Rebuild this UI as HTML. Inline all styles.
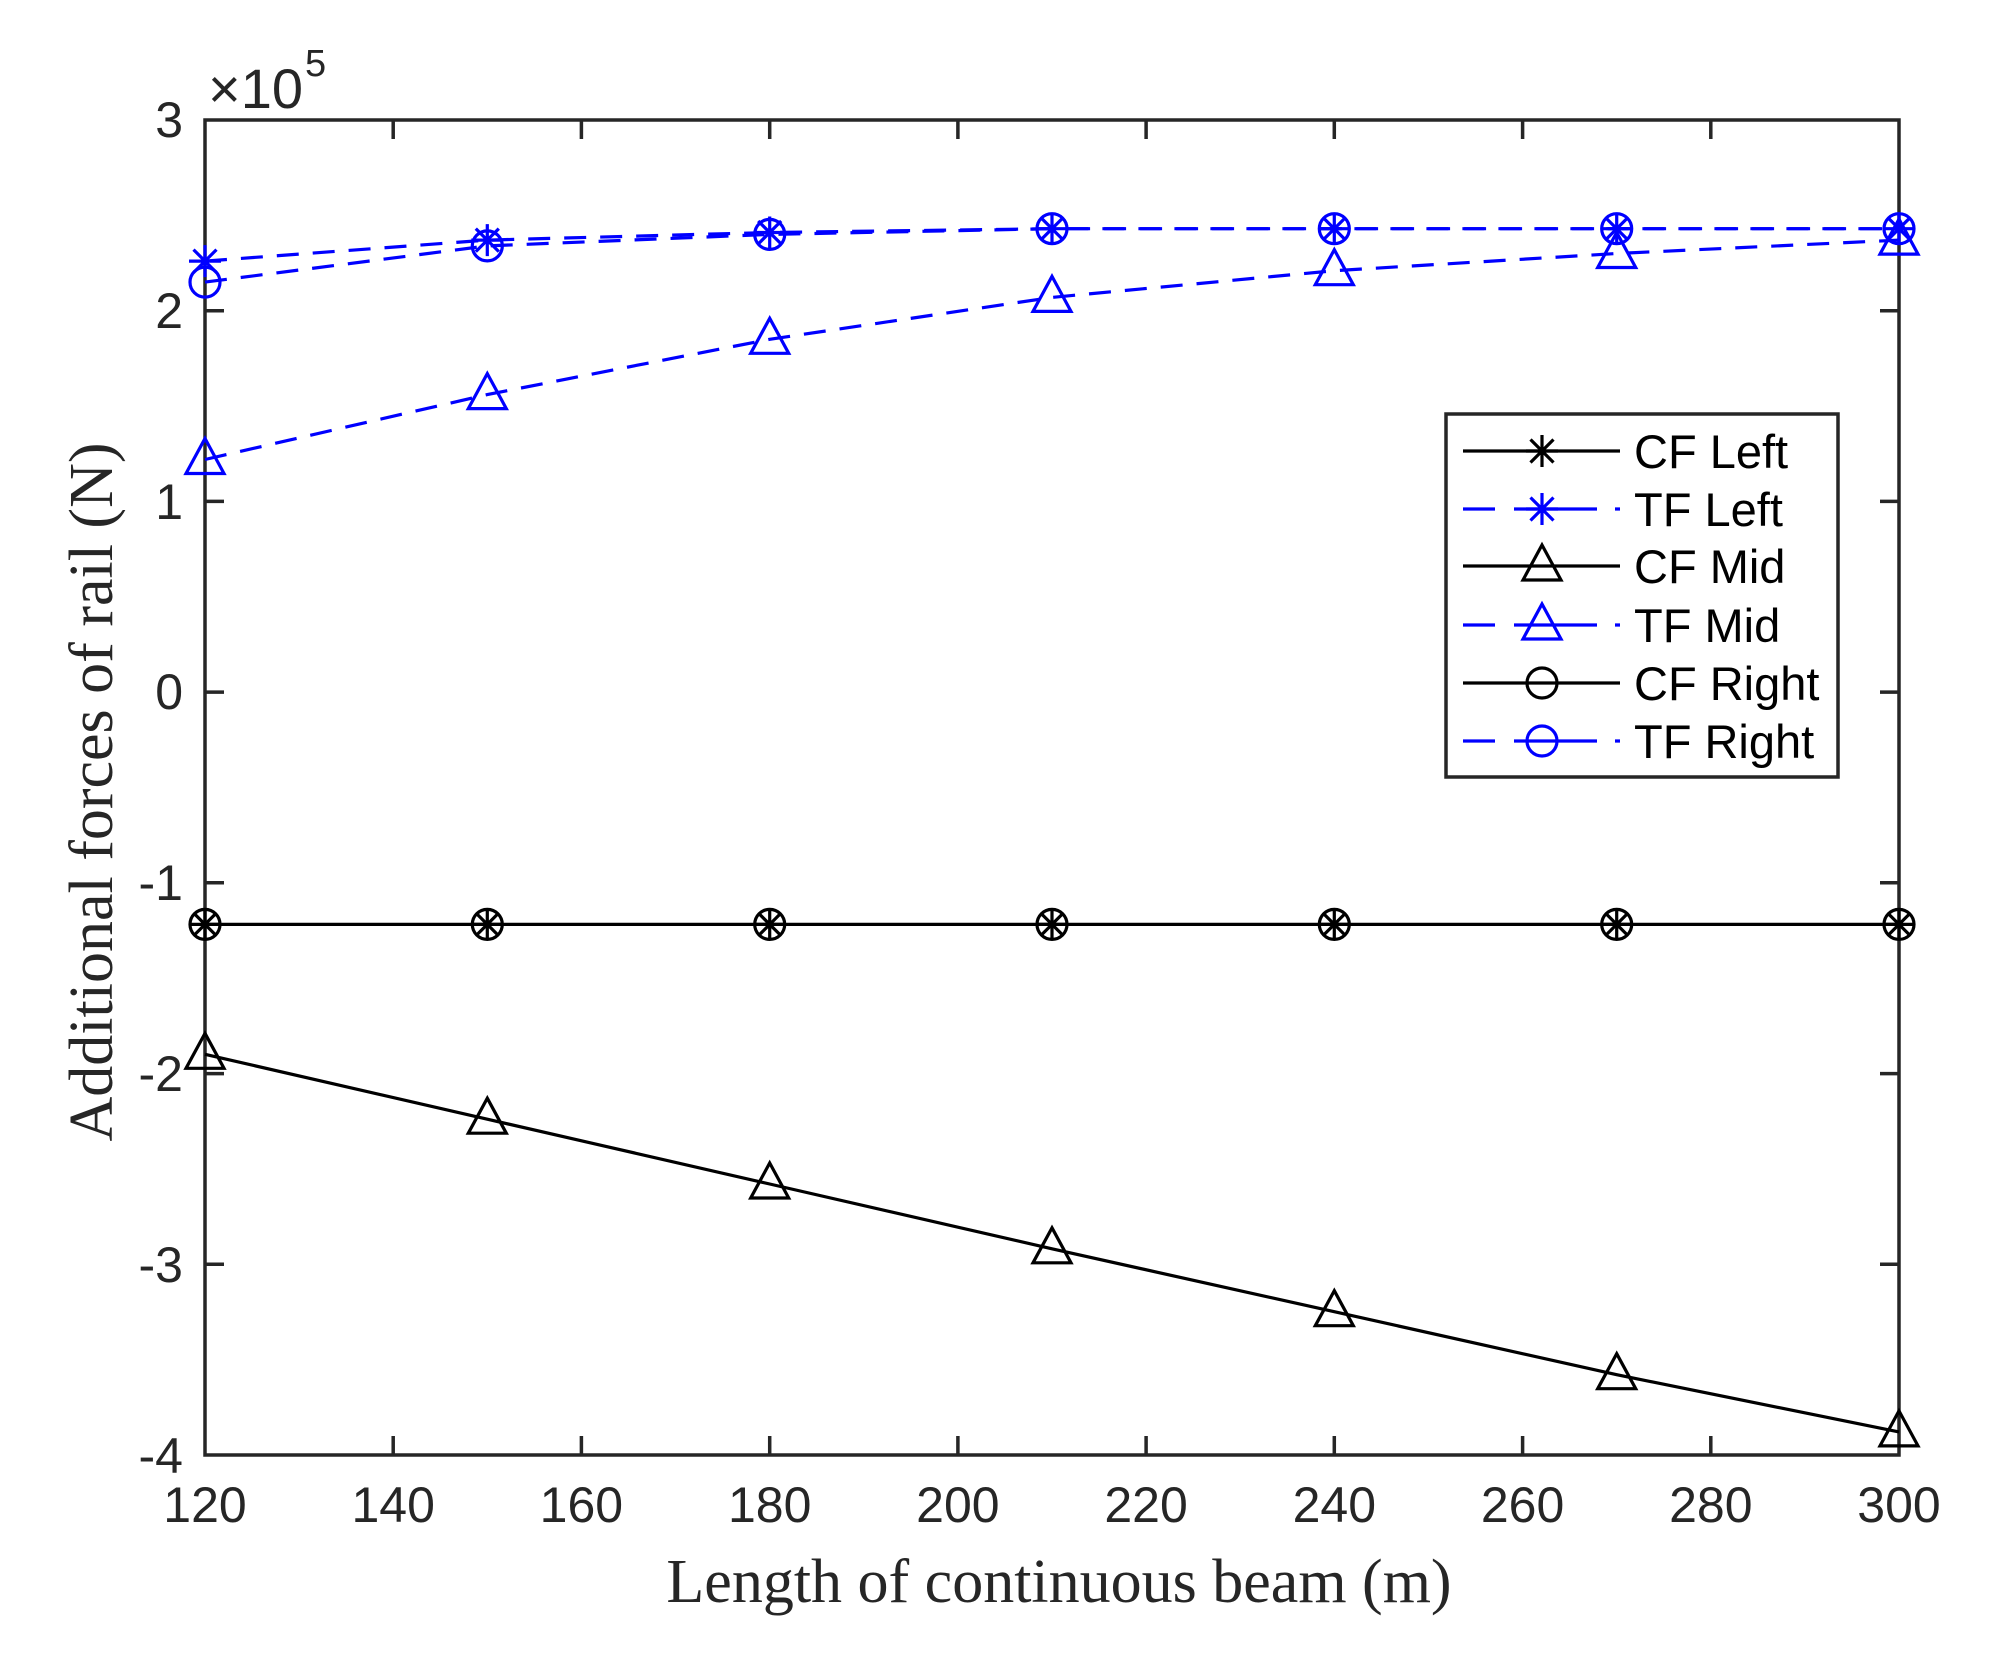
<!DOCTYPE html>
<html><head><meta charset="utf-8"><style>
html,body{margin:0;padding:0;background:#fff;}
svg{display:block;}
text{font-family:"Liberation Sans",Arial,sans-serif;fill:#262626;}
.ser{font-family:"Liberation Serif","Times New Roman",serif;}
</style></head><body>
<svg width="1991" height="1660" viewBox="0 0 1991 1660" xmlns="http://www.w3.org/2000/svg">
<defs>
<g id="star" fill="none" stroke-width="3.2"><path d="M-16 0H16M0 -16V16M-11.5 -11.5L11.5 11.5M-11.5 11.5L11.5 -11.5"/></g>
<g id="tri" fill="none" stroke-width="3.2"><path d="M0 -21L19 14H-19Z"/></g>
<g id="circ" fill="none" stroke-width="3.2"><circle r="15"/></g>
</defs>
<rect width="1991" height="1660" fill="#fff"/>
<g stroke="#262626" stroke-width="3.5" fill="none">
<rect x="205" y="120" width="1694" height="1335"/>
<path d="M393.2 1455v-19M581.4 1455v-19M769.7 1455v-19M957.9 1455v-19M1146.1 1455v-19M1334.3 1455v-19M1522.6 1455v-19M1710.8 1455v-19
M393.2 120v19M581.4 120v19M769.7 120v19M957.9 120v19M1146.1 120v19M1334.3 120v19M1522.6 120v19M1710.8 120v19
M205 310.7h19M205 501.4h19M205 692.1h19M205 882.8h19M205 1073.6h19M205 1264.3h19
M1899 310.7h-19M1899 501.4h-19M1899 692.1h-19M1899 882.8h-19M1899 1073.6h-19M1899 1264.3h-19"/>
</g>
<g font-size="50" text-anchor="end">
<text x="183" y="137">3</text><text x="183" y="328">2</text><text x="183" y="519">1</text>
<text x="183" y="709">0</text><text x="183" y="900">-1</text><text x="183" y="1091">-2</text>
<text x="183" y="1282">-3</text><text x="183" y="1473">-4</text>
</g>
<g font-size="50" text-anchor="middle">
<text x="205" y="1522">120</text><text x="393.2" y="1522">140</text><text x="581.4" y="1522">160</text>
<text x="769.7" y="1522">180</text><text x="957.9" y="1522">200</text><text x="1146.1" y="1522">220</text>
<text x="1334.3" y="1522">240</text><text x="1522.6" y="1522">260</text><text x="1710.8" y="1522">280</text>
<text x="1899" y="1522">300</text>
</g>
<text x="208" y="108" font-size="56">×10</text><text x="305" y="76" font-size="38">5</text>
<text class="ser" x="1059" y="1602" font-size="62" text-anchor="middle" fill="#262626">Length of continuous beam (m)</text>
<text class="ser" transform="translate(112 792) rotate(-90)" font-size="62" text-anchor="middle" fill="#262626">Additional forces of rail (N)</text>

<g fill="none" stroke-width="3.2">
<polyline stroke="#00f" stroke-dasharray="22 14" points="205,261.1 487.3,240.1 769.7,232.5 1052,228.7 1334.3,228.7 1616.7,228.7 1899,228.7"/>
<polyline stroke="#00f" stroke-dasharray="22 14" points="205,282.1 487.3,245.9 769.7,234.4 1052,228.7 1334.3,228.7 1616.7,228.7 1899,228.7"/>
<polyline stroke="#00f" stroke-dasharray="22 14" points="205,459.5 487.3,394.6 769.7,339.3 1052,297.4 1334.3,270.7 1616.7,253.5 1899,240.1"/>
<polyline stroke="#000" points="205,924.4 1899,924.4"/>
<polyline stroke="#000" points="205,1054.3 487.3,1119.2 769.7,1184 1052,1248.8 1334.3,1311.7 1616.7,1374.7 1899,1431.9"/>
</g>
<g stroke="#00f">
<use href="#star" x="205" y="261.1"/><use href="#star" x="487.3" y="240.1"/><use href="#star" x="769.7" y="232.5"/><use href="#star" x="1052" y="228.7"/><use href="#star" x="1334.3" y="228.7"/><use href="#star" x="1616.7" y="228.7"/><use href="#star" x="1899" y="228.7"/>
<use href="#circ" x="205" y="282.1"/><use href="#circ" x="487.3" y="245.9"/><use href="#circ" x="769.7" y="234.4"/><use href="#circ" x="1052" y="228.7"/><use href="#circ" x="1334.3" y="228.7"/><use href="#circ" x="1616.7" y="228.7"/><use href="#circ" x="1899" y="228.7"/>
<use href="#tri" x="205" y="459.5"/><use href="#tri" x="487.3" y="394.6"/><use href="#tri" x="769.7" y="339.3"/><use href="#tri" x="1052" y="297.4"/><use href="#tri" x="1334.3" y="270.7"/><use href="#tri" x="1616.7" y="253.5"/><use href="#tri" x="1899" y="240.1"/>
</g>
<g stroke="#000">
<use href="#star" x="205" y="924.4"/><use href="#star" x="487.3" y="924.4"/><use href="#star" x="769.7" y="924.4"/><use href="#star" x="1052" y="924.4"/><use href="#star" x="1334.3" y="924.4"/><use href="#star" x="1616.7" y="924.4"/><use href="#star" x="1899" y="924.4"/>
<use href="#circ" x="205" y="924.4"/><use href="#circ" x="487.3" y="924.4"/><use href="#circ" x="769.7" y="924.4"/><use href="#circ" x="1052" y="924.4"/><use href="#circ" x="1334.3" y="924.4"/><use href="#circ" x="1616.7" y="924.4"/><use href="#circ" x="1899" y="924.4"/>
<use href="#tri" x="205" y="1054.3"/><use href="#tri" x="487.3" y="1119.2"/><use href="#tri" x="769.7" y="1184"/><use href="#tri" x="1052" y="1248.8"/><use href="#tri" x="1334.3" y="1311.7"/><use href="#tri" x="1616.7" y="1374.7"/><use href="#tri" x="1899" y="1431.9"/>
</g>

<rect x="1446" y="414" width="392" height="363" fill="#fff" stroke="#262626" stroke-width="3.5"/>
<g fill="none" stroke-width="3.2">
<path stroke="#000" d="M1463 451H1620M1463 566H1620M1463 683H1620"/>
<path stroke="#00f" stroke-dasharray="32 19 83 18 7 100" d="M1463 509H1620M1463 625H1620M1463 741H1620"/>
</g>
<use href="#star" x="1542" y="451" stroke="#000"/>
<use href="#star" x="1542" y="509" stroke="#00f"/>
<use href="#tri" x="1542" y="566" stroke="#000"/>
<use href="#tri" x="1542" y="625" stroke="#00f"/>
<use href="#circ" x="1542" y="683" stroke="#000"/>
<use href="#circ" x="1542" y="741" stroke="#00f"/>
<g font-size="47">
<text x="1634" y="468" style="fill:#000">CF Left</text>
<text x="1634" y="526" style="fill:#000">TF Left</text>
<text x="1634" y="583" style="fill:#000">CF Mid</text>
<text x="1634" y="642" style="fill:#000">TF Mid</text>
<text x="1634" y="700" style="fill:#000">CF Right</text>
<text x="1634" y="758" style="fill:#000">TF Right</text>
</g>
</svg>
</body></html>
